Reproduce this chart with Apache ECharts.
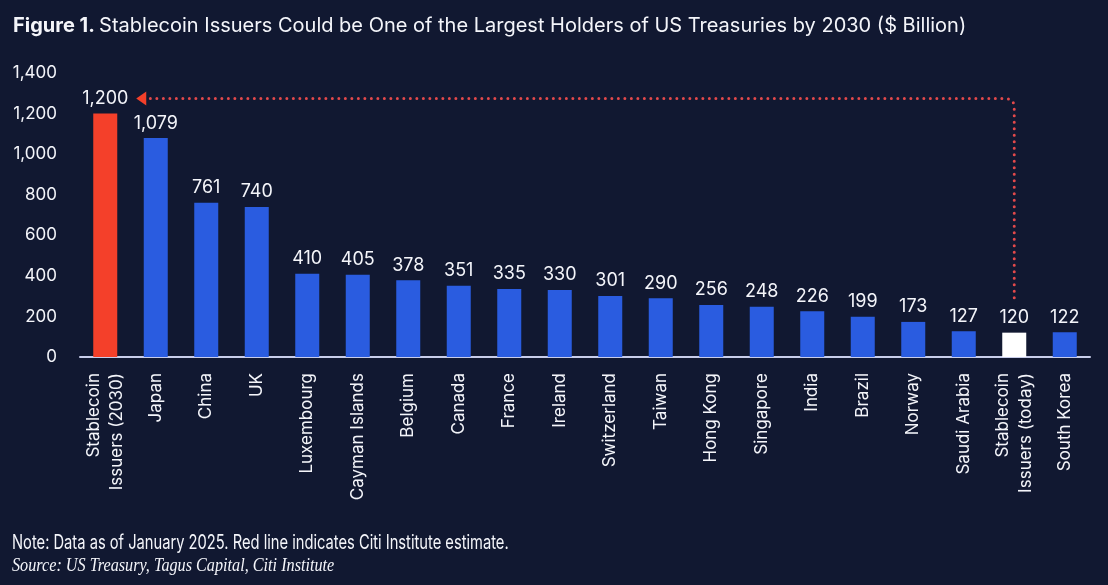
<!DOCTYPE html>
<html>
<head>
    <meta charset="utf-8" />
    <title>Stablecoin Issuers vs US Treasury holders</title>
    <style>
        html, body { margin: 0; padding: 0; background: #111831; }
        #chart { width: 1108px; height: 585px; }
    </style>
</head>
<body>
    <div id="chart"></div>
    <script src="https://cdn.jsdelivr.net/npm/echarts@6/dist/echarts.min.js"></script>
<script>
    // data
    var categories = ["Stablecoin\nIssuers (2030)", "Japan", "China", "UK", "Luxembourg", "Cayman Islands",
        "Belgium", "Canada", "France", "Ireland", "Switzerland", "Taiwan", "Hong Kong", "Singapore",
        "India", "Brazil", "Norway", "Saudi Arabia", "Stablecoin\nIssuers (today)", "South Korea"];
    var holdings = [1200, 1079, 761, 740, 410, 405, 378, 351, 335, 330, 301, 290, 256, 248, 226, 199, 173, 127, 120, 122];
    var yTicks = [0, 200, 400, 600, 800, 1000, 1200, 1400];
    var estimateIdx = 0;   // Stablecoin Issuers (2030)
    var todayIdx = 18;     // Stablecoin Issuers (today)

    var titleBold = 'Figure 1.';
    var titleText = 'Stablecoin Issuers Could be One of the Largest Holders of US Treasuries by 2030 ($ Billion)';
    var noteText = 'Note: Data as of January 2025. Red line indicates Citi Institute estimate.';
    var sourceText = 'Source: US Treasury, Tagus Capital, Citi Institute';

    var RED = '#f4402a', BLUE = '#2a5ce0', WHITE = '#ffffff', DOT = '#e2494b', TXT = '#f4f5fa';
    var FONT = 'Inter, "Noto Sans", sans-serif';

    function barColor(i) {
        if (i === estimateIdx) return RED;
        if (i === todayIdx) return WHITE;
        return BLUE;
    }

    var myChart = echarts.init(document.getElementById('chart'));
    var option = {
        backgroundColor: '#111831',
        textStyle: { fontFamily: FONT },
        title: {
            left: 13, top: 16, padding: 0,
            text: '{b|' + titleBold + '} {n|' + titleText + '}',
            textStyle: {
                rich: {
                    b: { fontFamily: FONT, fontSize: 20, fontWeight: 'bold', color: TXT },
                    n: { fontFamily: FONT, fontSize: 20, fontWeight: 'normal', color: TXT }
                }
            }
        },
        graphic: [
            {   // note line: condensed look
                type: 'text', x: 12, y: 543, scaleX: 0.735,
                style: { text: noteText, fill: TXT, font: '20px ' + FONT, verticalAlign: 'middle' }
            },
            {
                type: 'text', x: 12, y: 566, scaleX: 0.9,
                style: { text: sourceText, fill: TXT, font: 'italic 18px "Liberation Serif", "DejaVu Serif", serif', verticalAlign: 'middle' }
            }
        ],
        grid: { left: 80, right: 18, top: 73, bottom: 228 },
        xAxis: {
            type: 'category',
            data: categories,
            axisLine: { lineStyle: { color: '#c8cdea', width: 2 } },
            axisTick: { show: false },
            axisLabel: {
                interval: 0,
                rotate: 90,
                margin: 16,
                color: TXT,
                fontSize: 17,
                lineHeight: 23,
                fontFamily: FONT
            }
        },
        yAxis: {
            type: 'value',
            min: yTicks[0],
            max: yTicks[yTicks.length - 1],
            interval: yTicks[1] - yTicks[0],
            splitLine: { show: false },
            axisLine: { show: false },
            axisTick: { show: false },
            axisLabel: {
                margin: 23,
                color: TXT,
                fontSize: 17,
                fontFamily: FONT,
                formatter: function (v) { return v.toLocaleString('en-US'); }
            }
        },
        series: [
            {
                type: 'bar',
                barWidth: 24,
                data: holdings.map(function (v, i) {
                    return { value: v, itemStyle: { color: barColor(i) } };
                }),
                label: {
                    show: true,
                    position: 'top',
                    distance: 6,
                    color: TXT,
                    fontSize: 18,
                    fontFamily: FONT,
                    formatter: function (p) { return p.value.toLocaleString('en-US'); }
                }
            },
            {
                // dotted red line from today's stablecoin bar to the 2030 estimate
                type: 'custom',
                z: 5,
                clip: false,
                silent: true,
                encode: { x: 0, y: 1 },
                data: [[todayIdx, holdings[todayIdx], estimateIdx, holdings[estimateIdx]]],
                renderItem: function (params, api) {
                    var from = api.coord([api.value(0), api.value(1)]);
                    var to = api.coord([api.value(2), api.value(3)]);
                    var x1 = from[0];
                    var yBottom = from[1] - 35;
                    var yTop = to[1] - 15;
                    var xTip = to[0] + 31;
                    var r = 9;
                    var path = 'M' + x1 + ',' + yBottom +
                        ' L' + x1 + ',' + (yTop + r) +
                        ' Q' + x1 + ',' + yTop + ' ' + (x1 - r) + ',' + yTop +
                        ' L' + (xTip + 14) + ',' + yTop;
                    return {
                        type: 'group',
                        children: [
                            {
                                type: 'path',
                                shape: { pathData: path },
                                style: {
                                    fill: null,
                                    stroke: DOT,
                                    lineWidth: 3,
                                    lineDash: [0, 6.5],
                                    lineCap: 'round'
                                }
                            },
                            {
                                type: 'polygon',
                                shape: { points: [[xTip, yTop], [xTip + 10, yTop - 7], [xTip + 10, yTop + 7]] },
                                style: { fill: RED }
                            }
                        ]
                    };
                }
            }
        ]
    };
    myChart.setOption(option);
</script>
</body>
</html>
